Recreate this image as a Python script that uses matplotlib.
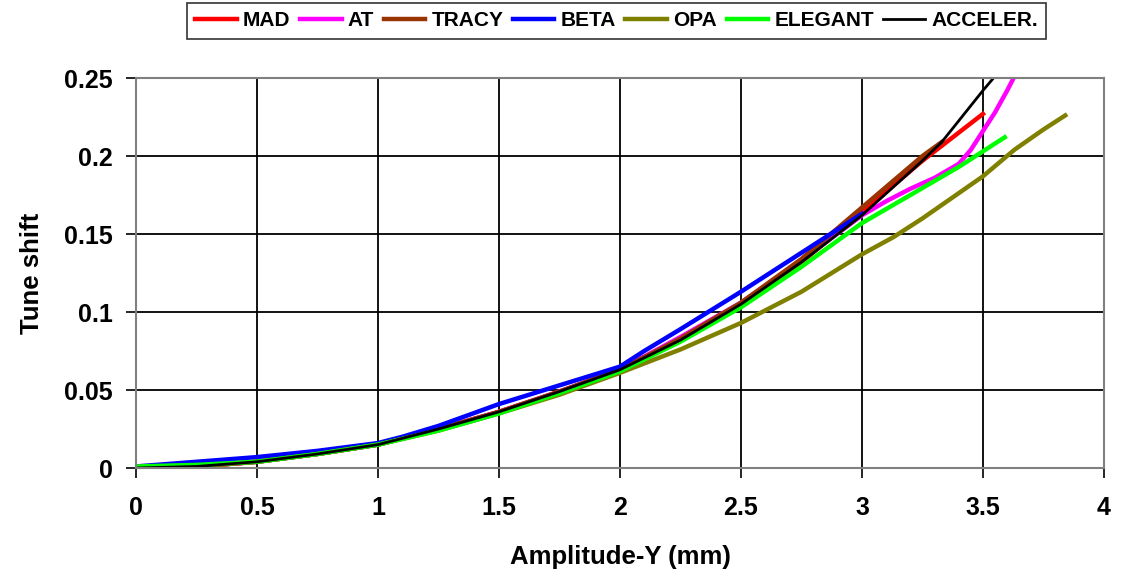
import matplotlib
matplotlib.use("Agg")
import matplotlib.pyplot as plt
import numpy as np

plt.rcParams['font.family'] = ['Liberation Sans', 'DejaVu Sans']
plt.rcParams['font.weight'] = 'bold'

## amplitude (mm) and tune shift for each code
x_mad = [0, 0.25, 0.5, 0.75, 1.0, 1.25, 1.5, 1.75, 2.0, 2.25, 2.5, 2.75, 3.0, 3.25, 3.5]
y_mad = [0, 0.001, 0.004, 0.009, 0.015, 0.025, 0.036, 0.049, 0.063, 0.083, 0.105, 0.132, 0.164, 0.197, 0.227]

x_at = [0, 0.25, 0.5, 0.75, 1.0, 1.25, 1.5, 1.75, 2.0, 2.25, 2.5, 2.75, 3.0, 3.1, 3.2, 3.3, 3.4, 3.45, 3.5, 3.55, 3.6, 3.65]
y_at = [0, 0.001, 0.004, 0.009, 0.015, 0.025, 0.036, 0.049, 0.063, 0.084, 0.106, 0.133, 0.162, 0.171, 0.179, 0.186, 0.195, 0.204, 0.216, 0.228, 0.242, 0.257]

x_tracy = [0, 0.25, 0.5, 0.75, 1.0, 1.25, 1.5, 1.75, 2.0, 2.25, 2.5, 2.75, 3.0, 3.25, 3.33]
y_tracy = [0, 0.001, 0.004, 0.009, 0.015, 0.025, 0.036, 0.049, 0.063, 0.083, 0.106, 0.134, 0.167, 0.200, 0.209]

x_beta = [0, 0.25, 0.5, 0.75, 1.0, 1.1, 1.25, 1.5, 1.75, 2.0, 2.1, 2.25, 2.5, 2.75, 3.0]
y_beta = [0.001, 0.004, 0.007, 0.011, 0.016, 0.020, 0.027, 0.041, 0.053, 0.065, 0.075, 0.089, 0.113, 0.138, 0.163]

x_opa = [0, 0.25, 0.5, 0.75, 1.0, 1.25, 1.5, 1.75, 2.0, 2.25, 2.5, 2.75, 3.0, 3.13, 3.25, 3.5, 3.63, 3.75, 3.84]
y_opa = [0, 0.001, 0.004, 0.009, 0.015, 0.024, 0.035, 0.047, 0.061, 0.076, 0.093, 0.113, 0.137, 0.148, 0.160, 0.187, 0.204, 0.217, 0.226]

x_elegant = [0, 0.25, 0.5, 0.75, 1.0, 1.25, 1.5, 1.75, 2.0, 2.25, 2.5, 2.75, 3.0, 3.2, 3.4, 3.59]
y_elegant = [0.001, 0.002, 0.004, 0.009, 0.015, 0.024, 0.035, 0.048, 0.062, 0.081, 0.103, 0.129, 0.157, 0.175, 0.193, 0.212]

x_accel = [0, 0.25, 0.5, 0.75, 1.0, 1.25, 1.5, 1.75, 2.0, 2.25, 2.5, 2.75, 3.0, 3.25, 3.33, 3.5, 3.56]
y_accel = [0, 0.001, 0.004, 0.009, 0.015, 0.025, 0.036, 0.049, 0.063, 0.082, 0.105, 0.132, 0.162, 0.197, 0.209, 0.242, 0.253]

x_ticks = [0, 0.5, 1, 1.5, 2, 2.5, 3, 3.5, 4]
x_ticklabels = ["0", "0.5", "1", "1.5", "2", "2.5", "3", "3.5", "4"]
y_ticks = [0, 0.05, 0.1, 0.15, 0.2, 0.25]
y_ticklabels = ["0", "0.05", "0.1", "0.15", "0.2", "0.25"]

fig = plt.figure(figsize=(11.25, 5.77), dpi=100)
ax = fig.add_axes([0.1209, 0.1889, 0.8604, 0.6759])

ax.plot(x_mad, y_mad, color="#FF0000", lw=3.2, label="MAD")
ax.plot(x_at, y_at, color="#FF00FF", lw=3.2, label="AT")
ax.plot(x_tracy, y_tracy, color="#993300", lw=3.2, label="TRACY")
ax.plot(x_beta, y_beta, color="#0000FF", lw=3.2, label="BETA")
ax.plot(x_opa, y_opa, color="#808000", lw=3.2, label="OPA")
ax.plot(x_elegant, y_elegant, color="#00FF00", lw=3.2, label="ELEGANT")
ax.plot(x_accel, y_accel, color="#000000", lw=2, label="ACCELER.")

ax.set_xlim(0, 4)
ax.set_ylim(0, 0.25)
ax.set_xticks(x_ticks)
ax.set_xticklabels(x_ticklabels)
ax.set_yticks(y_ticks)
ax.set_yticklabels(y_ticklabels)
ax.tick_params(labelsize=18, length=7, width=1.2, color="#000000")
ax.tick_params(axis="x", pad=13)
ax.tick_params(axis="y", pad=10)
ax.grid(True, color="#000000", lw=1.3)
ax.set_axisbelow(True)
for s in ax.spines.values():
    s.set_color("#808080")
    s.set_linewidth(1.5)

ax.set_xlabel("Amplitude-Y (mm)", fontsize=18.5, fontweight="bold", labelpad=18)
ax.set_ylabel("Tune shift", fontsize=18.5, fontweight="bold", labelpad=14)

leg = fig.legend(loc="upper center", bbox_to_anchor=(0.548, 0.995), ncol=7,
                 fontsize=15, frameon=True, fancybox=False, handlelength=2.0,
                 handletextpad=0.3, columnspacing=0.45, borderpad=0.4,
                 borderaxespad=0)
leg.get_frame().set_edgecolor("#000000")
leg.get_frame().set_linewidth(1.2)
for t in leg.get_texts():
    t.set_fontweight("bold")

fig.savefig("out.png", dpi=100)
